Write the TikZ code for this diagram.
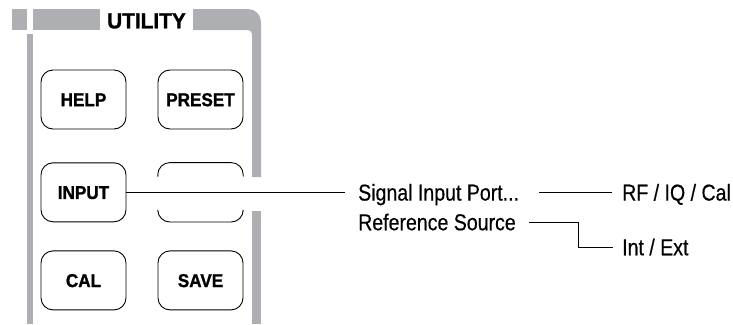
\documentclass[tikz,border=0pt]{standalone}
\usepackage{fontspec}
\newfontfamily\lblfont[FakeStretch=0.85,FakeBold=0.4]{Liberation Sans}
\newfontfamily\btnfont[FakeStretch=0.92,FakeBold=1.2]{Liberation Sans}
\newfontfamily\ttlfont[FakeStretch=0.95,FakeBold=1.2]{Liberation Sans}
\definecolor{framegray}{RGB}{174,175,178}
\begin{document}
\begin{tikzpicture}[x=1pt,y=1pt,
  btn/.style={draw, line width=0.9pt, rounded corners=12pt, minimum width=85pt, minimum height=59pt,
    inner sep=0pt, font=\btnfont\bfseries\fontsize{18.6}{22}\selectfont, text height=13.3pt, text depth=0pt},
  blankbtn/.style={minimum width=85pt, minimum height=59pt, inner sep=0pt},
  lbl/.style={font=\lblfont\fontsize{23}{27}\selectfont, inner sep=0pt, text height=16.5pt, text depth=0pt, anchor=west},
  ttl/.style={font=\ttlfont\bfseries\fontsize{21.9}{26}\selectfont, inner sep=0pt, text height=15.7pt, text depth=0pt},
  conn/.style={line width=0.9pt}]
\useasboundingbox (0,0) rectangle (733,-324);
% frame
\fill[framegray] (12,-9) rectangle (27,-30);
\fill[framegray] (33,-9) rectangle (100,-30);
\fill[framegray] (193,-9) -- (248,-9) arc[start angle=90,end angle=0,radius=13] -- (261,-177) -- (252,-177)
  -- (252,-34) arc[start angle=0,end angle=90,radius=4] -- (193,-30) -- cycle;
\fill[framegray] (252,-211) rectangle (261,-324);
\fill[framegray] (27,-34) rectangle (33,-324);
\node[ttl] (title) at (146.5,-20.5) {UTILITY};
% buttons
\node[btn] (help) at (83.5,-99.5) {HELP};
\node[btn] (preset) at (200.5,-99.5) {PRESET};
\node[btn] (input) at (83.5,-192.3) {INPUT};
\node[blankbtn] (blank) at (200.5,-192.3) {};
\node[btn] (cal) at (83.5,-280.4) {CAL};
\node[btn] (save) at (200.5,-280.4) {SAVE};
\draw[conn, rounded corners=12pt] ([yshift=-14pt]blank.north west) -- (blank.north west) -- (blank.north east) -- ([yshift=-14pt]blank.north east);
\draw[conn, rounded corners=12pt] ([yshift=11pt]blank.south west) -- (blank.south west) -- (blank.south east) -- ([yshift=11pt]blank.south east);
% labels
\node[lbl] (sig) at (358,-192.3) {Signal Input Port...};
\node[lbl] (ref) at (358,-222) {Reference Source};
\node[lbl] (rf) at (622,-192.3) {RF / IQ / Cal};
\node[lbl] (ext) at (622,-247) {Int / Ext};
% connectors
\draw[conn] (input.east) -- ([xshift=-13pt]sig.west);
\draw[conn] ([xshift=20pt]sig.east) -- ([xshift=-10pt]rf.west);
\draw[conn] ([xshift=13pt]ref.east) -- ++(49,0) |- ([xshift=-9pt]ext.west);
\end{tikzpicture}
\end{document}
